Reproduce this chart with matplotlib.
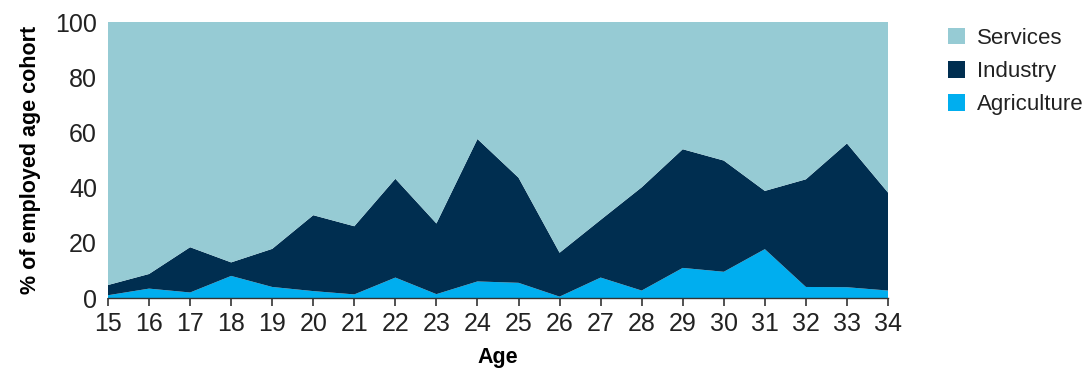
import matplotlib
matplotlib.use("Agg")
import matplotlib.pyplot as plt
from matplotlib.patches import Patch
import numpy as np

ages = list(range(15, 35))
agriculture = [1.0, 3.4, 2.0, 8.0, 4.0, 2.5, 1.3, 7.4, 1.4, 6.0, 5.5, 0.5, 7.4, 2.7, 10.9, 9.5, 17.7, 4.0, 3.9, 2.7]
industry_top = [4.7, 8.7, 18.4, 12.9, 17.8, 30.0, 26.0, 43.2, 27.0, 57.6, 43.6, 16.4, 28.3, 40.1, 53.9, 49.8, 38.8, 43.0, 56.0, 38.2]
industry = [t - a for t, a in zip(industry_top, agriculture)]
services = [100 - t for t in industry_top]
series_names = ["Services", "Industry", "Agriculture"]
colors = {"Services": "#96CBD4", "Industry": "#002E50", "Agriculture": "#00AEEF"}

plt.rcParams['font.family'] = ['Liberation Sans Narrow', 'Liberation Sans', 'DejaVu Sans']

fig = plt.figure(figsize=(10.92, 3.75), dpi=100)
ax = fig.add_axes([108/1092, 1 - 298/375, 780/1092, 276/375])

ax.stackplot(ages, agriculture, industry, services,
             colors=[colors["Agriculture"], colors["Industry"], colors["Services"]],
             linewidth=0)

ax.set_xlim(15, 34)
ax.set_ylim(0, 100)
ax.set_xticks(ages)
ax.set_yticks([0, 20, 40, 60, 80, 100])
ax.tick_params(axis='x', direction='out', length=6, width=1.2, color='#333333',
               labelsize=18, labelcolor='#222222', pad=4)
ax.tick_params(axis='y', length=0, labelsize=18, labelcolor='#222222', pad=8)
for s in ['top', 'right', 'left']:
    ax.spines[s].set_visible(False)
ax.spines['bottom'].set_color('#333333')
ax.spines['bottom'].set_linewidth(1.0)

ax.set_xlabel("Age", fontsize=15.5, fontweight='bold', labelpad=8)
ax.set_ylabel("% of employed age cohort", fontsize=15.5, fontweight='bold', labelpad=10)

handles = [Patch(facecolor=colors[n], edgecolor='none') for n in series_names]
leg = fig.legend(handles, series_names, loc='upper left', bbox_to_anchor=(939/1092, 1 - 19/375),
                 frameon=False, fontsize=16, handlelength=0.75, handleheight=0.75,
                 handletextpad=0.55, labelspacing=0.55, borderaxespad=0)
for t in leg.get_texts():
    t.set_color('#222222')

fig.savefig("out.png", dpi=100)
